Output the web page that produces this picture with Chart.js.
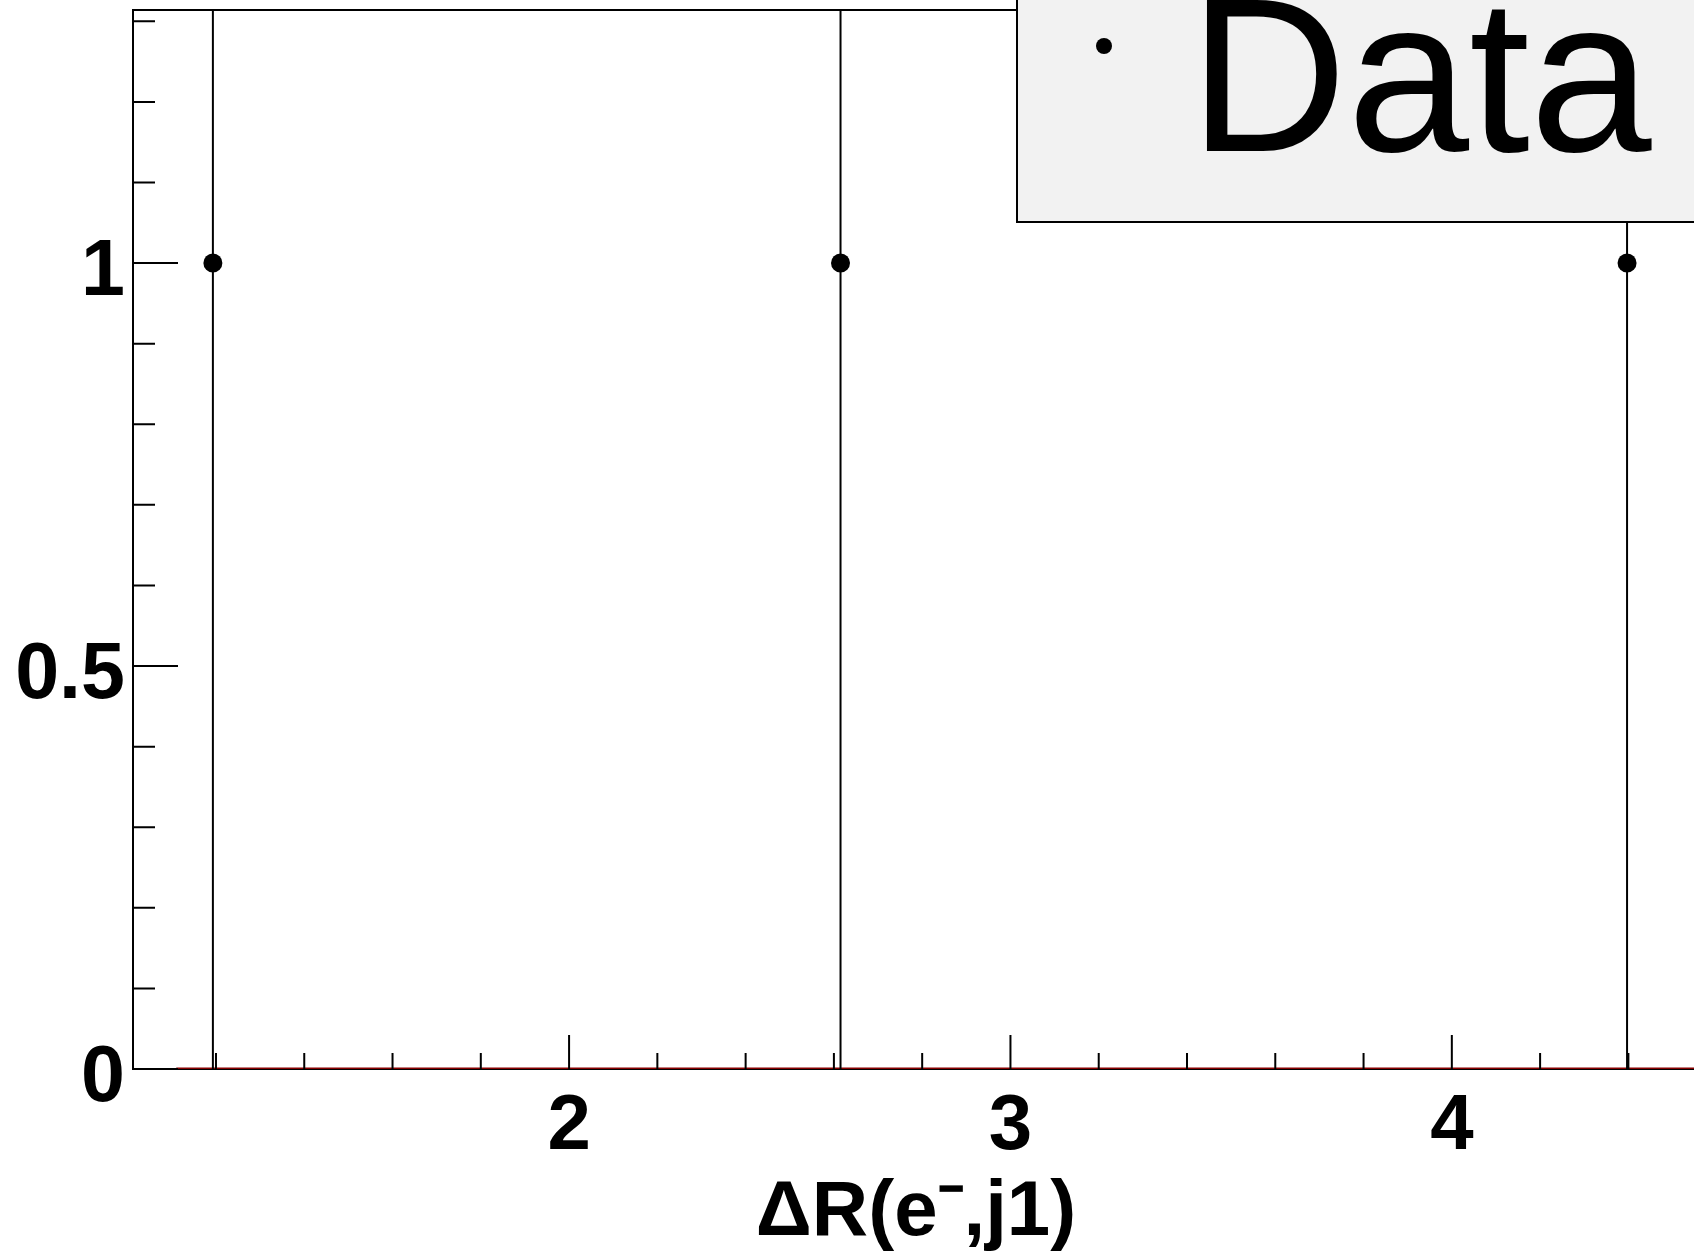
<!DOCTYPE html>
<html>
<head>
<meta charset="utf-8">
<script src="https://cdn.jsdelivr.net/npm/chart.js@4.4.1/dist/chart.umd.min.js"></script>
<style>
  html, body { margin: 0; padding: 0; background: #fff; overflow: hidden; }
  #c { display: block; }
</style>
</head>
<body>
<canvas id="c" width="1720" height="1254"></canvas>
<script>
// data
var pointX = [1.193, 2.615, 4.397];
var pointY = [1, 1, 1];
var errLow = [0, 0, 0];
var errHigh = [2, 2, 2];
var histEdges = [1.11, 4.6];
var histValues = [0, 0];
var xMajor = [2, 3, 4];
var xMinor = [1.2, 1.4, 1.6, 1.8, 2.2, 2.4, 2.6, 2.8, 3.2, 3.4, 3.6, 3.8, 4.2, 4.4];
var yMajor = [0, 0.5, 1];
var yMinor = [0.1, 0.2, 0.3, 0.4, 0.6, 0.7, 0.8, 0.9, 1.1, 1.2, 1.3];
var legendLabel = 'Data';
var xTitle = 'ΔR(e⁻,j1)';

var datasets = [];
// error bars, one small line per point
for (var i = 0; i < pointX.length; i++) {
  datasets.push({
    type: 'line',
    data: [{x: pointX[i], y: errLow[i]}, {x: pointX[i], y: errHigh[i]}],
    borderColor: '#000',
    borderWidth: 2,
    pointRadius: 0,
    fill: false
  });
}
// empty histogram drawn in dark red along zero
datasets.push({
  type: 'line',
  data: histEdges.map(function (e, i) { return {x: e, y: histValues[i]}; }),
  borderColor: '#860000',
  borderWidth: 3,
  pointRadius: 0,
  fill: false
});
datasets.push({
  type: 'scatter',
  label: legendLabel,
  data: pointX.map(function (x, i) { return {x: x, y: pointY[i]}; }),
  backgroundColor: '#000',
  borderColor: '#000',
  borderWidth: 0,
  pointRadius: 9.5,
  pointHoverRadius: 9.5
});

var rootFrame = {
  id: 'rootFrame',
  afterDatasetsDraw: function (chart) {
    var ctx = chart.ctx, a = chart.chartArea;
    var xs = chart.scales.x, ys = chart.scales.y;
    ctx.save();
    ctx.strokeStyle = '#000';
    ctx.lineWidth = 2;
    ctx.beginPath();
    ctx.moveTo(a.left, a.top); ctx.lineTo(a.right, a.top);
    ctx.moveTo(a.left, a.top); ctx.lineTo(a.left, a.bottom);
    ctx.stroke();
    ctx.beginPath();
    yMajor.forEach(function (v) {
      var p = ys.getPixelForValue(v);
      ctx.moveTo(a.left, p); ctx.lineTo(a.left + 45, p);
    });
    yMinor.forEach(function (v) {
      var p = ys.getPixelForValue(v);
      ctx.moveTo(a.left, p); ctx.lineTo(a.left + 22, p);
    });
    xMajor.forEach(function (v) {
      var p = xs.getPixelForValue(v);
      ctx.moveTo(p, a.bottom); ctx.lineTo(p, a.bottom - 34);
    });
    xMinor.forEach(function (v) {
      var p = xs.getPixelForValue(v);
      ctx.moveTo(p, a.bottom); ctx.lineTo(p, a.bottom - 16);
    });
    ctx.stroke();
    ctx.restore();
  },
  afterDraw: function (chart) {
    var ctx = chart.ctx;
    ctx.save();
    ctx.fillStyle = '#f2f2f2';
    ctx.fillRect(1017, -5, 720, 227);
    ctx.strokeStyle = '#000';
    ctx.lineWidth = 2;
    ctx.strokeRect(1017, -5, 720, 227);
    ctx.fillStyle = '#000';
    ctx.beginPath();
    ctx.arc(1104, 46, 8, 0, Math.PI * 2);
    ctx.fill();
    ctx.font = '219px "Liberation Sans", Arial, sans-serif';
    ctx.textAlign = 'left';
    ctx.textBaseline = 'alphabetic';
    ctx.fillText(legendLabel, 1189, 151);
    ctx.restore();
  }
};

var chart = new Chart(document.getElementById('c').getContext('2d'), {
  type: 'scatter',
  data: { datasets: datasets },
  options: {
    responsive: false,
    animation: false,
    events: [],
    layout: { padding: { top: 10, right: 21, left: 0, bottom: 0 } },
    plugins: { legend: { display: false }, tooltip: { enabled: false } },
    scales: {
      x: {
        type: 'linear',
        min: 1.012,
        max: 4.56,
        grid: { display: false, drawTicks: false },
        border: { display: true, color: '#000', width: 2 },
        afterBuildTicks: function (axis) {
          axis.ticks = xMajor.map(function (v) { return {value: v}; });
        },
        afterFit: function (axis) {
          axis.height = 185;
          axis.paddingLeft = 0;
          axis.paddingRight = 0;
        },
        ticks: {
          autoSkip: false,
          maxRotation: 0,
          padding: 12,
          color: '#000',
          font: { family: '"Liberation Sans", Arial, sans-serif', weight: 'bold', size: 78 },
          callback: function (v) { return String(v); }
        },
        title: {
          display: true,
          text: xTitle,
          color: '#000',
          padding: { top: 0, bottom: -6 },
          font: { family: '"Liberation Sans", Arial, sans-serif', weight: 'bold', size: 78 }
        }
      },
      y: {
        type: 'linear',
        min: 0,
        max: 1.314,
        grid: { display: false, drawTicks: false },
        border: { display: true, color: '#000', width: 2 },
        afterBuildTicks: function (axis) {
          axis.ticks = yMajor.map(function (v) { return {value: v}; });
        },
        afterFit: function (axis) {
          axis.width = 133;
          axis.paddingTop = 0;
          axis.paddingBottom = 0;
        },
        ticks: {
          autoSkip: false,
          padding: 8,
          labelOffset: 10,
          color: '#000',
          font: { family: '"Liberation Sans", Arial, sans-serif', weight: 'bold', size: 79 },
          callback: function (v) { return String(v); }
        }
      }
    }
  },
  plugins: [rootFrame]
});
</script>
</body>
</html>
